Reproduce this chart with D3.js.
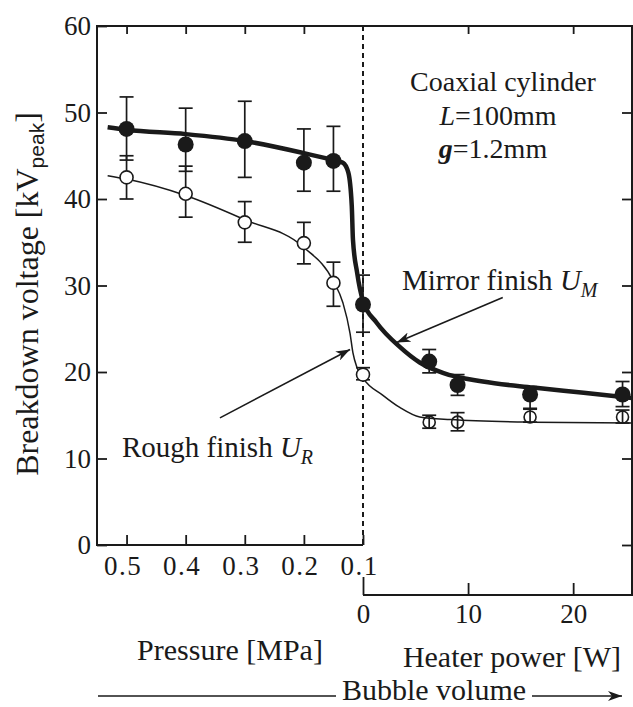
<!DOCTYPE html>
<html>
<head>
<meta charset="utf-8">
<script src="https://cdn.jsdelivr.net/npm/d3@7"></script>
<style>
  body { margin: 0; background: #fff; }
  svg text { font-family: "Liberation Serif", "Times New Roman", serif; fill: #1a1a1a; }
</style>
</head>
<body>
<script>
// Axis ticks
var voltTicks = [0, 10, 20, 30, 40, 50, 60];
var pressureTicks = [0.5, 0.4, 0.3, 0.2, 0.1];
var pressureTopTicks = [0.5, 0.4, 0.3, 0.2];
var heaterTicks = [0, 10, 20];
var heaterTopTicks = [10, 20];

// Mirror finish U_M, pressure side (MPa)
var mirrorP = [0.5, 0.4, 0.3, 0.2, 0.15, 0.1];
var mirrorPV = [48.1, 46.3, 46.7, 44.2, 44.4, 27.8];
var mirrorPHi = [51.8, 50.5, 51.3, 48.1, 48.4, 31.2];
var mirrorPLo = [44.5, 43.2, 42.5, 40.9, 40.9, 24.6];
// Mirror finish U_M, heater side (W)
var mirrorW = [6.3, 9.0, 15.9, 24.7];
var mirrorWV = [21.2, 18.5, 17.4, 17.4];
var mirrorWHi = [22.6, 19.7, 18.3, 18.9];
var mirrorWLo = [19.9, 17.3, 15.8, 16.0];

// Rough finish U_R, pressure side
var roughP = [0.5, 0.4, 0.3, 0.2, 0.15, 0.1];
var roughPV = [42.5, 40.6, 37.3, 34.9, 30.3, 19.7];
var roughPHi = [45.0, 43.8, 39.7, 37.3, 32.7, 20.5];
var roughPLo = [40.0, 37.9, 35.0, 32.5, 27.6, 19.1];
// Rough finish U_R, heater side
var roughW = [6.3, 9.0, 15.9, 24.7];
var roughWV = [14.2, 14.2, 14.8, 14.8];
var roughWHi = [15.0, 15.3, 15.7, 15.6];
var roughWLo = [13.5, 13.2, 14.2, 14.1];

// Fitted curves
var mirrorFitP = [[0.532, 48.3], [0.5, 48.0], [0.4, 47.5], [0.3, 46.7], [0.2, 45.3], [0.15, 44.5],
  [0.134, 44.2], [0.125, 43.1], [0.119, 39.2], [0.117, 35.3], [0.11, 31.5], [0.1, 28.2]];
var mirrorFitW = [[1.3, 25.7], [3.5, 22.9], [5.4, 21.1], [7.6, 19.9], [11.4, 18.9],
  [16.2, 18.2], [21, 17.6], [25.6, 17.0]];
var roughFitP = [[0.532, 42.7], [0.5, 42.3], [0.4, 40.4], [0.3, 37.6], [0.2, 34.4], [0.15, 30.5],
  [0.134, 28.0], [0.122, 24.5], [0.117, 22.2], [0.11, 20.5], [0.1, 19.3]];
var roughFitW = [[1.9, 17.3], [3.5, 15.9], [5.4, 14.8], [8.3, 14.5], [16.2, 14.2], [25.6, 14.1]];

var svgWidth = 633;
var svgHeight = 707;

var plotLeft = 97, plotTop = 26, plotRight = 632, bottomP = 545, bottomW = 595;
var ink = "#1a1a1a";

var svg = d3.select("body")
  .append("svg")
  .attr("width", svgWidth)
  .attr("height", svgHeight);

// Scales: reversed pressure on the left, heater power on the right
var yScale = d3.scaleLinear().domain([0, 60]).range([bottomP, plotTop]);
var xP = d3.scaleLinear().domain([0.55, 0.1]).range([plotLeft, 363]);
var xW = d3.scaleLinear().domain([0, 25.6]).range([363, plotRight]);

function styleAxis(g, size) {
  g.select(".domain").remove();
  g.attr("font-family", null).attr("font-size", null);
  g.selectAll(".tick line").attr("stroke", ink).attr("stroke-width", 1.8);
  g.selectAll(".tick text").style("font-size", size + "px").attr("fill", ink);
}

// Left axis
svg.append("g")
  .attr("transform", "translate(" + plotLeft + ",0)")
  .call(d3.axisLeft(yScale).tickValues(voltTicks).tickSizeInner(-10).tickSizeOuter(0).tickPadding(6))
  .call(styleAxis, 27);

// Right axis (ticks only)
svg.append("g")
  .attr("transform", "translate(" + plotRight + ",0)")
  .call(d3.axisRight(yScale).tickValues(voltTicks.slice(0, 6)).tickSizeInner(-10).tickSizeOuter(0).tickFormat(""))
  .call(styleAxis, 27);

// Bottom pressure axis
svg.append("g")
  .attr("transform", "translate(0," + bottomP + ")")
  .call(d3.axisBottom(xP).tickValues(pressureTicks).tickSizeInner(-10).tickSizeOuter(0).tickPadding(11)
    .tickFormat(d3.format(".1f")))
  .call(styleAxis, 27)
  .call(function (g) {
    g.selectAll(".tick text").attr("x", -4).attr("letter-spacing", 1.5);
  });

// Heater power axis
var heaterAxis = svg.append("g")
  .attr("transform", "translate(0," + bottomW + ")")
  .call(d3.axisBottom(xW).tickValues(heaterTicks).tickSizeInner(-12).tickSizeOuter(0).tickPadding(9))
  .call(styleAxis, 27);
heaterAxis.selectAll(".tick line").filter(function (d) { return d === 0; }).attr("y2", -18);

// Top ticks
svg.append("g")
  .attr("transform", "translate(0," + plotTop + ")")
  .call(d3.axisTop(xP).tickValues(pressureTopTicks).tickSizeInner(-8).tickSizeOuter(0).tickFormat(""))
  .call(styleAxis, 27);
svg.append("g")
  .attr("transform", "translate(0," + plotTop + ")")
  .call(d3.axisTop(xW).tickValues(heaterTopTicks).tickSizeInner(-8).tickSizeOuter(0).tickFormat(""))
  .call(styleAxis, 27);

// Frame
var frame = d3.path();
frame.moveTo(xP(0.1), bottomP);
frame.lineTo(plotLeft, bottomP);
frame.lineTo(plotLeft, plotTop);
frame.lineTo(plotRight, plotTop);
frame.lineTo(plotRight, bottomW);
frame.lineTo(xW(0), bottomW);
svg.append("path")
  .attr("d", frame.toString())
  .attr("fill", "none")
  .attr("stroke", ink)
  .attr("stroke-width", 2);

// Dashed divider at 0.1 MPa / 0 W
svg.append("line")
  .attr("x1", xP(0.1)).attr("x2", xP(0.1))
  .attr("y1", plotTop).attr("y2", bottomP)
  .attr("stroke", ink)
  .attr("stroke-width", 2)
  .attr("stroke-dasharray", "5,4");

// Fitted curves
function fitPoints(pPart, wPart) {
  return pPart.map(function (d) { return [xP(d[0]), yScale(d[1])]; })
    .concat(wPart.map(function (d) { return [xW(d[0]), yScale(d[1])]; }));
}
var curveLine = d3.line().curve(d3.curveMonotoneX);

svg.append("path")
  .attr("d", curveLine(fitPoints(mirrorFitP, mirrorFitW)))
  .attr("fill", "none")
  .attr("stroke", ink)
  .attr("stroke-width", 4.5);

svg.append("path")
  .attr("d", curveLine(fitPoints(roughFitP, roughFitW)))
  .attr("fill", "none")
  .attr("stroke", ink)
  .attr("stroke-width", 1.5);

// Error bars + markers
function series(xs, xScale, vs, his, los) {
  return xs.map(function (x, i) {
    return { x: xScale(x), v: yScale(vs[i]), hi: yScale(his[i]), lo: yScale(los[i]) };
  });
}
function drawBars(data) {
  var g = svg.append("g").attr("stroke", ink).attr("stroke-width", 1.7);
  data.forEach(function (d) {
    g.append("line").attr("x1", d.x).attr("x2", d.x).attr("y1", d.hi).attr("y2", d.lo);
    g.append("line").attr("x1", d.x - 7).attr("x2", d.x + 7).attr("y1", d.hi).attr("y2", d.hi);
    g.append("line").attr("x1", d.x - 7).attr("x2", d.x + 7).attr("y1", d.lo).attr("y2", d.lo);
  });
}

var mirrorData = series(mirrorP, xP, mirrorPV, mirrorPHi, mirrorPLo)
  .concat(series(mirrorW, xW, mirrorWV, mirrorWHi, mirrorWLo));
var roughPData = series(roughP, xP, roughPV, roughPHi, roughPLo);
var roughWData = series(roughW, xW, roughWV, roughWHi, roughWLo);

drawBars(mirrorData);
drawBars(roughPData);
drawBars(roughWData);

svg.append("g").selectAll("circle")
  .data(mirrorData)
  .enter().append("circle")
  .attr("cx", function (d) { return d.x; })
  .attr("cy", function (d) { return d.v; })
  .attr("r", 8)
  .attr("fill", ink);

svg.append("g").selectAll("circle")
  .data(roughPData)
  .enter().append("circle")
  .attr("cx", function (d) { return d.x; })
  .attr("cy", function (d) { return d.v; })
  .attr("r", 6.5)
  .attr("fill", "#fff")
  .attr("stroke", ink)
  .attr("stroke-width", 1.6);

svg.append("g").selectAll("circle")
  .data(roughWData)
  .enter().append("circle")
  .attr("cx", function (d) { return d.x; })
  .attr("cy", function (d) { return d.v; })
  .attr("r", 6)
  .attr("fill", "none")
  .attr("stroke", ink)
  .attr("stroke-width", 1.6);

// Annotation arrows
svg.append("defs").append("marker")
  .attr("id", "head")
  .attr("viewBox", "0 0 14 10")
  .attr("refX", 14).attr("refY", 5)
  .attr("markerWidth", 14).attr("markerHeight", 10)
  .attr("markerUnits", "userSpaceOnUse")
  .attr("orient", "auto")
  .append("path")
  .attr("d", "M0,0 L14,5 L0,10 L4,5 Z")
  .attr("fill", ink);

svg.append("line")
  .attr("x1", xW(13.3)).attr("y1", yScale(28.6))
  .attr("x2", xW(3.2)).attr("y2", yScale(23.4))
  .attr("stroke", ink).attr("stroke-width", 1.6)
  .attr("marker-end", "url(#head)");

svg.append("line")
  .attr("x1", xP(0.342)).attr("y1", yScale(14.7))
  .attr("x2", xP(0.122)).attr("y2", yScale(22.6))
  .attr("stroke", ink).attr("stroke-width", 1.6)
  .attr("marker-end", "url(#head)");

// Labels on the curves
var mirrorLabel = svg.append("text").attr("x", 402).attr("y", 290).style("font-size", "29px");
mirrorLabel.append("tspan").text("Mirror finish ");
mirrorLabel.append("tspan").attr("font-style", "italic").text("U");
mirrorLabel.append("tspan").attr("font-style", "italic").attr("dy", 7).style("font-size", "20px").text("M");

var roughLabel = svg.append("text").attr("x", 122).attr("y", 457).style("font-size", "29px");
roughLabel.append("tspan").text("Rough finish ");
roughLabel.append("tspan").attr("font-style", "italic").text("U");
roughLabel.append("tspan").attr("font-style", "italic").attr("dy", 7).style("font-size", "20px").text("R");

// Geometry box
svg.append("text").attr("x", 503).attr("y", 91).attr("text-anchor", "middle")
  .style("font-size", "28px").text("Coaxial cylinder");
var lText = svg.append("text").attr("x", 498).attr("y", 125).attr("text-anchor", "middle").style("font-size", "28px");
lText.append("tspan").attr("font-style", "italic").text("L");
lText.append("tspan").text("=100mm");
var gText = svg.append("text").attr("x", 493).attr("y", 158).attr("text-anchor", "middle").style("font-size", "28px");
gText.append("tspan").attr("font-style", "italic").attr("font-weight", "bold").text("g");
gText.append("tspan").text("=1.2mm");

// Y axis title
var yTitle = svg.append("text")
  .attr("transform", "translate(38,294) rotate(-90)")
  .attr("text-anchor", "middle")
  .style("font-size", "32px");
yTitle.append("tspan").text("Breakdown voltage [kV");
yTitle.append("tspan").attr("dy", 6).style("font-family", "'Liberation Sans', Arial, sans-serif")
  .style("font-size", "21px").text("peak");
yTitle.append("tspan").attr("dy", -6).text("]");

// X axis titles
svg.append("text").attr("x", 230).attr("y", 660).attr("text-anchor", "middle")
  .style("font-size", "30px").text("Pressure [MPa]");
svg.append("text").attr("x", 512).attr("y", 667).attr("text-anchor", "middle")
  .style("font-size", "30px").text("Heater power [W]");

// Bubble volume arrow
svg.append("text").attr("x", 434).attr("y", 700).attr("text-anchor", "middle")
  .style("font-size", "30px").text("Bubble volume");
svg.append("line")
  .attr("x1", 98).attr("x2", 336).attr("y1", 696).attr("y2", 696)
  .attr("stroke", ink).attr("stroke-width", 1.6);
svg.append("line")
  .attr("x1", 532).attr("x2", 622).attr("y1", 696).attr("y2", 696)
  .attr("stroke", ink).attr("stroke-width", 1.6)
  .attr("marker-end", "url(#head)");
</script>
</body>
</html>
